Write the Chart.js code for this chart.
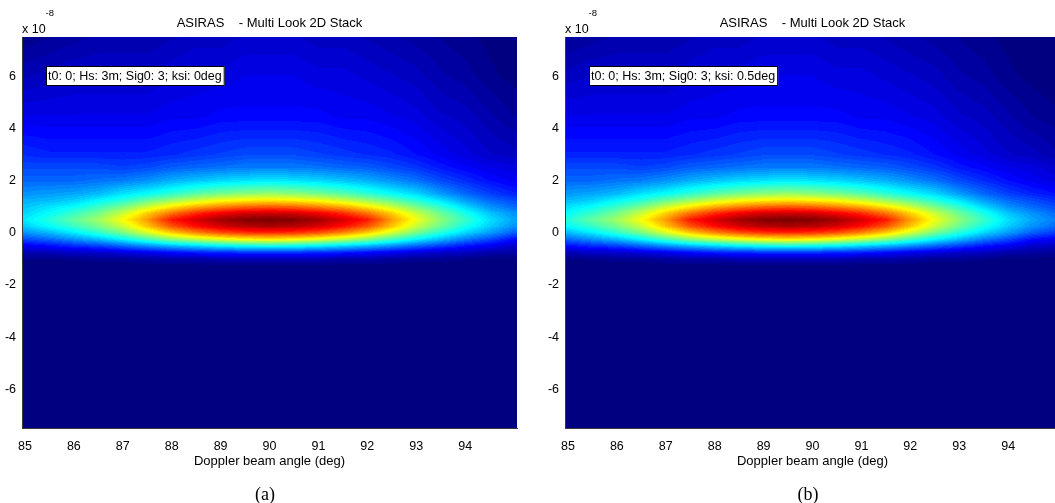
<!DOCTYPE html>
<html>
<head>
<meta charset="utf-8">
<title>ASIRAS - Multi Look 2D Stack</title>
<script src="https://cdn.jsdelivr.net/npm/chart.js@4.4.1/dist/chart.umd.min.js"></script>
<style>
    html, body { margin: 0; padding: 0; background: #fff; width: 1055px; height: 503px; overflow: hidden; }
    canvas { position: absolute; top: 0; }
    #chartA { left: 0; }
    #chartB { left: 543px; }
    .caption { position: absolute; top: 485px; width: 60px; text-align: center; font: 18px "Liberation Serif", "DejaVu Serif", serif; line-height: 18px; color: #000; }
</style>
</head>
<body>
<canvas id="chartA" width="527" height="503"></canvas>
<canvas id="chartB" width="527" height="503"></canvas>
<div class="caption" style="left:235px">(a)</div>
<div class="caption" style="left:778px">(b)</div>
<script>
// Doppler beam angle columns (deg)
const xCols = [85, 85.5, 86, 86.5, 87, 87.5, 88, 88.5, 89, 89.5, 90, 90.5, 91, 91.5, 92, 92.5, 93, 93.5, 94, 94.5, 95];
// rows, in units of 1e-8, top to bottom
const yRows = [7.5, 6, 4.5, 3, 2.5, 2, 1.5, 1.25, 1, 0.75, 0.5, 0.25, 0, -0.25, -0.5, -0.75, -1, -1.25, -7.5];

const xTicks = [85, 86, 87, 88, 89, 90, 91, 92, 93, 94];
const yTicks = [-6, -4, -2, 0, 2, 4, 6];

// stack power, % of peak (ksi 0deg)
const gridA = [
    [2, 3, 4, 5, 5, 5, 6, 7, 7, 8, 8, 8, 7, 7, 6, 5, 4, 3, 2, 1, 0],
    [6, 7, 8, 8, 8, 8, 9, 10, 10, 11, 11, 11, 10, 10, 9, 8, 7, 5, 4, 2, 1],
    [11, 11, 11, 11, 11, 11, 12, 12, 13, 13, 13, 13, 13, 12, 12, 11, 10, 8, 7, 5, 3],
    [17, 16, 16, 16, 16, 16, 17, 18, 19, 20, 20, 20, 19, 18, 17, 16, 14, 12, 10, 8, 7],
    [20, 20, 20, 20, 19, 20, 22, 23, 24, 25, 25, 25, 24, 23, 22, 20, 18, 15, 13, 11, 10],
    [23, 23, 23, 24, 25, 27, 30, 32, 34, 35, 36, 35, 34, 32, 30, 27, 24, 20, 17, 14, 12],
    [27, 28, 29, 31, 35, 38, 42, 46, 49, 51, 52, 51, 49, 46, 42, 38, 34, 28, 23, 19, 16],
    [30, 31, 33, 37, 41, 47, 52, 57, 61, 63, 64, 63, 61, 57, 52, 47, 41, 35, 28, 23, 20],
    [32, 35, 38, 43, 49, 57, 64, 70, 74, 77, 78, 77, 74, 70, 64, 57, 49, 42, 34, 27, 23],
    [34, 38, 43, 49, 57, 67, 76, 83, 88, 91, 92, 91, 88, 83, 76, 67, 57, 48, 40, 32, 27],
    [36, 41, 47, 53, 62, 72, 85, 91, 96, 99, 100, 99, 96, 91, 85, 72, 61, 51, 43, 35, 29],
    [33, 38, 43, 49, 57, 68, 79, 86, 91, 94, 95, 94, 91, 86, 79, 68, 57, 48, 40, 33, 27],
    [27, 31, 36, 42, 49, 58, 67, 74, 79, 82, 83, 82, 79, 74, 67, 58, 49, 41, 34, 28, 22],
    [20, 23, 27, 31, 37, 44, 51, 56, 60, 63, 64, 63, 60, 56, 51, 44, 37, 31, 25, 20, 14],
    [12, 14, 17, 19, 23, 27, 31, 34, 37, 39, 40, 39, 37, 34, 31, 27, 23, 19, 15, 12, 8],
    [6, 6, 8, 8, 10, 12, 14, 16, 17, 18, 18, 18, 17, 16, 14, 12, 10, 8, 7, 5, 4],
    [2, 2, 2, 3, 3, 4, 5, 5, 6, 6, 6, 6, 6, 5, 5, 4, 3, 3, 2, 1, 1],
    [0, 0, 0, 0, 0, 1, 1, 1, 1, 1, 1, 1, 1, 1, 1, 1, 0, 0, 0, 0, 0],
    [0, 0, 0, 0, 0, 0, 0, 0, 0, 0, 0, 0, 0, 0, 0, 0, 0, 0, 0, 0, 0]
];

// panel (b) (ksi 0.5deg), peak sits near 89.5
const gridB = [
    [3, 4, 5, 5, 5, 6, 7, 7, 8, 8, 8, 7, 7, 6, 5, 4, 3, 2, 1, 0, 0],
    [7, 8, 8, 8, 8, 9, 10, 10, 11, 11, 11, 10, 10, 9, 8, 7, 5, 4, 2, 1, 0],
    [11, 11, 11, 11, 11, 12, 12, 13, 13, 13, 13, 13, 12, 12, 11, 10, 8, 7, 5, 3, 2],
    [16, 16, 16, 16, 16, 17, 18, 19, 20, 20, 20, 19, 18, 17, 16, 14, 12, 10, 8, 7, 5],
    [20, 20, 20, 19, 20, 22, 23, 24, 25, 25, 25, 24, 23, 22, 20, 18, 15, 13, 11, 10, 8],
    [23, 23, 24, 25, 27, 30, 32, 34, 35, 36, 35, 34, 32, 30, 27, 24, 20, 17, 14, 12, 10],
    [28, 29, 31, 35, 38, 42, 46, 49, 51, 52, 51, 49, 46, 42, 38, 34, 28, 23, 19, 16, 14],
    [31, 33, 37, 41, 47, 52, 57, 61, 63, 64, 63, 61, 57, 52, 47, 41, 35, 28, 23, 20, 17],
    [35, 38, 43, 49, 57, 64, 70, 74, 77, 78, 77, 74, 70, 64, 57, 49, 42, 34, 27, 23, 20],
    [38, 43, 49, 57, 67, 76, 83, 88, 91, 92, 91, 88, 83, 76, 67, 57, 48, 40, 32, 27, 23],
    [41, 47, 53, 62, 72, 85, 91, 96, 99, 100, 99, 96, 91, 85, 72, 61, 51, 43, 35, 29, 25],
    [38, 43, 49, 57, 68, 79, 86, 91, 94, 95, 94, 91, 86, 79, 68, 57, 48, 40, 33, 27, 23],
    [31, 36, 42, 49, 58, 67, 74, 79, 82, 83, 82, 79, 74, 67, 58, 49, 41, 34, 28, 22, 18],
    [23, 27, 31, 37, 44, 51, 56, 60, 63, 64, 63, 60, 56, 51, 44, 37, 31, 25, 20, 14, 12],
    [14, 17, 19, 23, 27, 31, 34, 37, 39, 40, 39, 37, 34, 31, 27, 23, 19, 15, 12, 8, 7],
    [6, 8, 8, 10, 12, 14, 16, 17, 18, 18, 18, 17, 16, 14, 12, 10, 8, 7, 5, 4, 3],
    [2, 2, 3, 3, 4, 5, 5, 6, 6, 6, 6, 6, 5, 5, 4, 3, 3, 2, 1, 1, 1],
    [0, 0, 0, 0, 1, 1, 1, 1, 1, 1, 1, 1, 1, 1, 1, 0, 0, 0, 0, 0, 0],
    [0, 0, 0, 0, 0, 0, 0, 0, 0, 0, 0, 0, 0, 0, 0, 0, 0, 0, 0, 0, 0]
];

const titleText = 'ASIRAS    - Multi Look 2D Stack';
const noteA = 't0: 0; Hs: 3m; Sig0: 3; ksi: 0deg';
const noteB = 't0: 0; Hs: 3m; Sig0: 3; ksi: 0.5deg';

const FONT = '"Liberation Sans", Arial, Helvetica, sans-serif';

// matlab jet, 64 steps
function jet(v) {
    const k = Math.min(63, Math.max(0, Math.floor(v * 64))) / 63;
    const c = t => Math.round(255 * Math.max(0, Math.min(1, 1.5 - Math.abs(t))));
    return [c(4 * k - 3), c(4 * k - 2), c(4 * k - 1)];
}

function sample(grid, xv, yv) {
    const step = xCols[1] - xCols[0];
    let cx = (xv - xCols[0]) / step;
    cx = Math.max(0, Math.min(xCols.length - 1, cx));
    const i0 = Math.min(xCols.length - 2, Math.floor(cx));
    const fx = cx - i0;
    const last = yRows.length - 1;
    let j0 = 0, fy = 0;
    if (yv >= yRows[0]) {
        j0 = 0; fy = 0;
    } else if (yv <= yRows[last]) {
        j0 = last - 1; fy = 1;
    } else {
        while (yRows[j0 + 1] > yv) j0++;
        fy = (yRows[j0] - yv) / (yRows[j0] - yRows[j0 + 1]);
    }
    const top = grid[j0][i0] * (1 - fx) + grid[j0][i0 + 1] * fx;
    const bot = grid[j0 + 1][i0] * (1 - fx) + grid[j0 + 1][i0 + 1] * fx;
    return (top * (1 - fy) + bot * fy) / 100;
}

const heatmap = {
    id: 'heatmap',
    beforeDatasetsDraw(chart, args, opts) {
        const { ctx, chartArea: a, scales: { x, y } } = chart;
        const left = Math.round(a.left), top = Math.round(a.top);
        const w = Math.round(a.right) - left, h = Math.round(a.bottom) - top;
        const img = ctx.createImageData(w, h);
        for (let py = 0; py < h; py++) {
            const yv = y.getValueForPixel(top + py + 0.5);
            for (let px = 0; px < w; px++) {
                const xv = x.getValueForPixel(left + px + 0.5);
                const [r, g, b] = jet(sample(opts.grid, xv, yv));
                const o = (py * w + px) * 4;
                img.data[o] = r; img.data[o + 1] = g; img.data[o + 2] = b; img.data[o + 3] = 255;
            }
        }
        ctx.putImageData(img, left, top);
    },
    afterDraw(chart, args, opts) {
        const { ctx, chartArea: a } = chart;
        ctx.save();
        ctx.fillStyle = '#000';
        ctx.textBaseline = 'alphabetic';
        // title
        ctx.font = '13px ' + FONT;
        ctx.textAlign = 'center';
        ctx.fillText(titleText, (a.left + a.right) / 2, a.top - 10);
        // exponent
        ctx.textAlign = 'left';
        ctx.font = '12.5px ' + FONT;
        ctx.fillText('x 10', a.left, a.top - 4.5);
        ctx.font = '9.5px ' + FONT;
        ctx.fillText('-8', a.left + 23.5, a.top - 21);
        // note box
        ctx.font = '12.5px ' + FONT;
        const tw = ctx.measureText(opts.note).width;
        const bx = a.left + 24, by = a.top + 29;
        ctx.fillStyle = '#fff';
        ctx.fillRect(bx, by, tw + 5, 20);
        ctx.strokeStyle = '#000';
        ctx.lineWidth = 1;
        ctx.strokeRect(bx + 0.5, by + 0.5, tw + 4, 19);
        ctx.fillStyle = '#000';
        ctx.textBaseline = 'middle';
        ctx.fillText(opts.note, bx + 2, by + 10.5);
        ctx.restore();
    }
};

function makeChart(id, grid, note) {
    const ctx = document.getElementById(id).getContext('2d');

    const config = {
        type: 'scatter',
        data: {
            datasets: [{
                data: [],
                pointRadius: 0
            }]
        },
        options: {
            responsive: false,
            animation: false,
            events: [],
            layout: {
                padding: { top: 37, right: 10, bottom: 31, left: 0 }
            },
            plugins: {
                legend: { display: false },
                tooltip: { enabled: false },
                heatmap: { grid: grid, note: note }
            },
            scales: {
                x: {
                    type: 'linear',
                    min: 84.94,
                    max: 95.06,
                    afterBuildTicks: s => { s.ticks = xTicks.map(v => ({ value: v })); },
                    afterFit: s => { s.height = 44; },
                    grid: { display: false, drawTicks: false },
                    border: { display: true, color: '#3a3a3a', width: 1, z: 1 },
                    ticks: {
                        padding: 11,
                        maxRotation: 0,
                        autoSkip: false,
                        color: '#000',
                        font: { family: FONT, size: 12.5 },
                        callback: v => String(v)
                    },
                    title: {
                        display: true,
                        text: 'Doppler beam angle (deg)',
                        color: '#000',
                        font: { family: FONT, size: 13 },
                        padding: { top: 0, bottom: 3 }
                    }
                },
                y: {
                    type: 'linear',
                    min: -7.48,
                    max: 7.5,
                    afterBuildTicks: s => { s.ticks = yTicks.map(v => ({ value: v })); },
                    afterFit: s => { s.width = 22; },
                    grid: { display: false, drawTicks: false },
                    border: { display: true, color: '#3a3a3a', width: 1, z: 1 },
                    ticks: {
                        padding: 6,
                        autoSkip: false,
                        color: '#000',
                        font: { family: FONT, size: 12.5 },
                        callback: v => String(v)
                    }
                }
            }
        },
        plugins: [heatmap]
    };

    return new Chart(ctx, config);
}

document.addEventListener('DOMContentLoaded', () => {
    makeChart('chartA', gridA, noteA);
    makeChart('chartB', gridB, noteB);
});
</script>
</body>
</html>
